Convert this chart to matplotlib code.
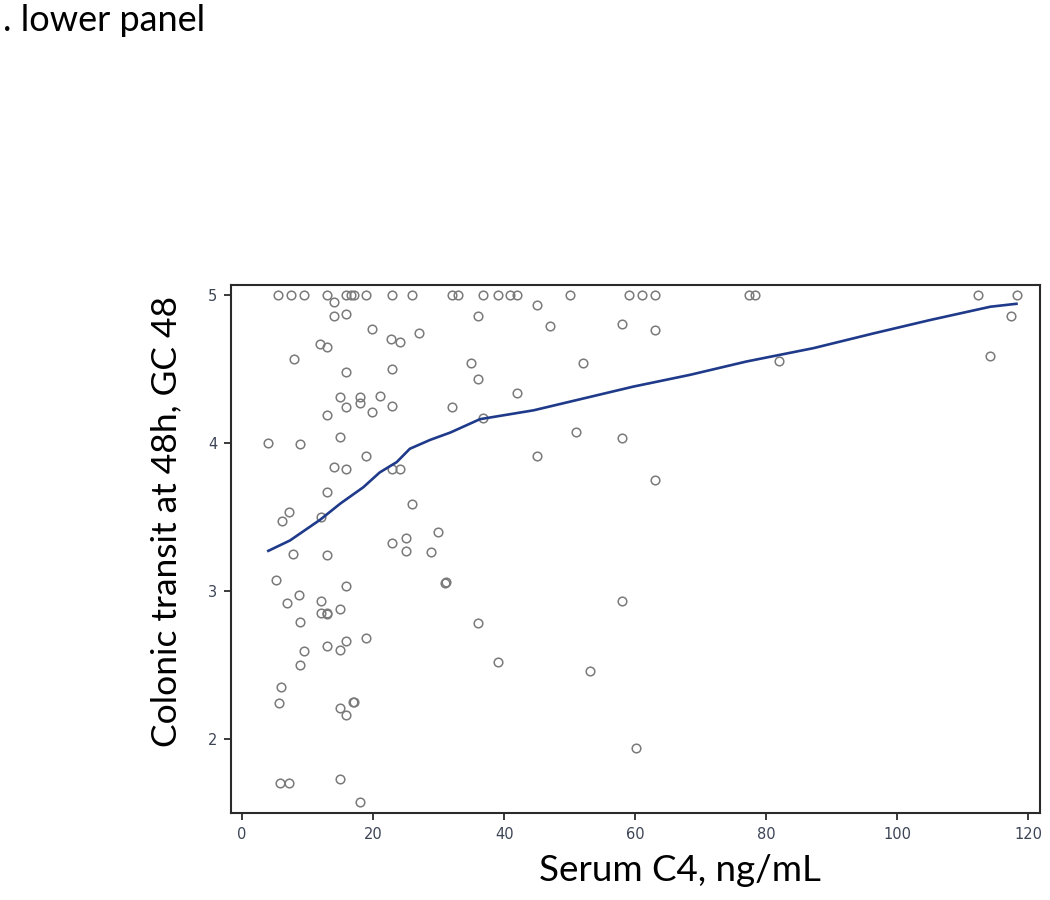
import matplotlib.pyplot as plt

plt.rcParams['font.family'] = ['Lato', 'DejaVu Sans']

# Serum C4 (ng/mL) vs colonic transit GC48
c4 = [5.5, 7.5, 9.5, 12.9, 15.9, 16.6, 17.0, 18.9, 22.9, 26, 32, 33, 36.8, 39, 40.9, 42,
      50, 59, 61, 63, 77.3, 78.3, 112.3, 118.3,
      14, 14, 15.9, 19.9, 27, 22.8, 24.1, 11.9, 13, 7.9, 15.9, 22.9, 15, 18, 18, 21,
      22.9, 15.9, 12.9, 19.9, 32, 15, 4, 8.9, 18.9, 14, 15.9, 22.9, 24.1,
      12.9, 7.2, 6.1, 12, 26, 29.9, 25, 22.9, 25, 28.9, 7.8, 12.9, 5.2, 15.9, 31, 31.1,
      8.7, 6.8, 12, 15, 12, 12.9, 13.0, 8.9, 18.9, 12.9, 15.9, 15, 9.5, 8.9, 6, 5.7,
      15, 16.9, 17.0, 15.9, 5.8, 7.1, 15, 18,
      45, 36, 47, 58, 63, 35, 52, 36, 42, 36.8, 51, 58, 45, 63, 36, 39, 53.1, 58, 60.1,
      82, 117.3, 114.2]
gc48 = [5, 5, 5, 5, 5, 5, 5, 5, 5, 5, 5, 5, 5, 5, 5, 5,
        5, 5, 5, 5, 5, 5, 5, 5,
        4.95, 4.86, 4.87, 4.77, 4.74, 4.70, 4.68, 4.67, 4.65, 4.57, 4.48, 4.50, 4.31, 4.31, 4.27, 4.32,
        4.25, 4.24, 4.19, 4.21, 4.24, 4.04, 4.0, 3.99, 3.91, 3.84, 3.82, 3.82, 3.82,
        3.67, 3.53, 3.47, 3.50, 3.59, 3.40, 3.36, 3.32, 3.27, 3.26, 3.25, 3.24, 3.07, 3.03, 3.05, 3.06,
        2.97, 2.92, 2.93, 2.88, 2.85, 2.84, 2.85, 2.79, 2.68, 2.63, 2.66, 2.60, 2.59, 2.50, 2.35, 2.24,
        2.21, 2.25, 2.25, 2.16, 1.70, 1.70, 1.73, 1.57,
        4.93, 4.86, 4.79, 4.80, 4.76, 4.54, 4.54, 4.43, 4.34, 4.17, 4.07, 4.03, 3.91, 3.75, 2.78, 2.52, 2.46, 2.93, 1.94,
        4.55, 4.86, 4.59]

# smoothed fit line
fit_x = [4, 7.3, 11.9, 15, 18.5, 21, 23.6, 25.6, 28.7, 31.8, 36.3, 44.5, 52.1, 59.7, 68.4,
         77, 87.2, 96.4, 105, 114.2, 118.2]
fit_y = [3.27, 3.34, 3.48, 3.59, 3.70, 3.80, 3.87, 3.96, 4.02, 4.07, 4.16, 4.22, 4.30, 4.38, 4.46,
         4.55, 4.64, 4.74, 4.83, 4.92, 4.94]

x_ticks = [0, 20, 40, 60, 80, 100, 120]
y_ticks = [2, 3, 4, 5]

fig = plt.figure(figsize=(10.5, 9), dpi=100)
ax = fig.add_axes([0.22, 0.097, 0.7705, 0.5865])

ax.plot(c4, gc48, 'o', markersize=6.2, markerfacecolor='none',
        markeredgecolor='#7a7a7a', markeredgewidth=1.1)
ax.plot(fit_x, fit_y, color='#1f3a8a', linewidth=1.9)

ax.set_xlim(-1.7, 121.8)
ax.set_ylim(1.5, 5.068)
ax.set_xticks(x_ticks)
ax.set_yticks(y_ticks)
ax.tick_params(direction='out', length=5, width=1.3, colors='#2a2a2a', pad=5)
for lbl in ax.get_xticklabels() + ax.get_yticklabels():
    lbl.set_family('DejaVu Sans')
    lbl.set_fontsize(10.5)
    lbl.set_color('#3c4456')
for sp in ax.spines.values():
    sp.set_linewidth(1.5)
    sp.set_color('#2a2a2a')

ax.set_xlabel('Serum C4, ng/mL', fontsize=26.5)
ax.set_ylabel('Colonic transit at 48h, GC 48', fontsize=25.5)
ax.xaxis.set_label_coords(0.555, -0.078)
ax.yaxis.set_label_coords(-0.06, 0.551)

fig.text(0.003, 0.977, '. lower panel', fontsize=26, va='center', ha='left')

fig.savefig('out.png', dpi=100)
